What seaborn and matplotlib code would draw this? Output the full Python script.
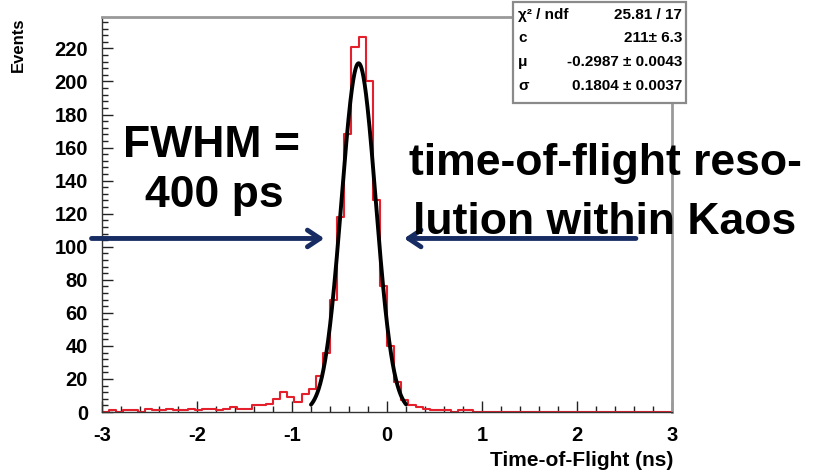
import numpy as np
import pandas as pd
import matplotlib
matplotlib.use("Agg")
import matplotlib.pyplot as plt
import seaborn as sns
from matplotlib.ticker import MultipleLocator
from matplotlib.patches import Rectangle

# Time-of-flight histogram: 80 bins of 0.075 ns between -3 and 3 ns
bin_lo, bin_hi, n_bins = -3.0, 3.0, 80
counts = [
    0, 1, 0, 1, 1, 0, 2, 1, 1, 2, 1, 1, 2, 1, 2, 2, 1, 2, 3, 2,
    2, 4, 4, 5, 8, 12, 9, 6, 11, 14,
    22, 36, 68, 118, 168, 221, 227, 200, 128, 76, 40, 18, 7,
    4, 3, 2, 1, 1, 1, 0, 1, 1, 0,
    0, 0, 0, 0, 0, 0, 0, 0, 0, 0, 0, 0, 0, 0, 0, 0, 0, 0, 0, 0, 0, 0, 0, 0, 0, 0, 0,
]

# Gaussian fit result
fit_c, fit_mu, fit_sigma = 211.0, -0.2987, 0.1804
fit_range = (-0.8, 0.2)

stats_labels = ["\u03c7\u00b2 / ndf", "c", "\u03bc", "\u03c3"]
stats_values = ["25.81 / 17", "211\u00b1 6.3", "-0.2987 \u00b1 0.0043", "0.1804 \u00b1 0.0037"]

x_ticks = [-3, -2, -1, 0, 1, 2, 3]
y_ticks = list(range(0, 221, 20))

sns.set_style("white")
plt.rcParams["font.family"] = ["Liberation Sans", "DejaVu Sans"]
plt.rcParams["font.weight"] = "bold"
plt.rcParams["text.color"] = "black"

W, H = 834, 475
fig = plt.figure(figsize=(W / 100, H / 100), dpi=100)
ax = fig.add_axes([102 / W, 1 - 412 / H, (672 - 102) / W, (412 - 17) / H])

bin_w = (bin_hi - bin_lo) / n_bins
hist_df = pd.DataFrame({
    "tof": [bin_lo + (i + 0.5) * bin_w for i in range(n_bins)],
    "events": counts,
})
sns.histplot(data=hist_df, x="tof", weights="events", bins=n_bins,
             binrange=(bin_lo, bin_hi), element="step", fill=False,
             color="#e3202c", linewidth=1.5, ax=ax)

fx = np.linspace(fit_range[0], fit_range[1], 300)
fy = fit_c * np.exp(-0.5 * ((fx - fit_mu) / fit_sigma) ** 2)
sns.lineplot(x=fx, y=fy, color="black", linewidth=2.8, ax=ax)

ax.set_xlim(bin_lo, bin_hi)
ax.set_ylim(0, 239)
ax.set_xticks(x_ticks)
ax.set_xticklabels([str(t) for t in x_ticks])
ax.set_yticks(y_ticks)
ax.set_yticklabels([str(t) for t in y_ticks])
ax.xaxis.set_minor_locator(MultipleLocator(0.2))
ax.yaxis.set_minor_locator(MultipleLocator(4))
ax.tick_params(axis="both", which="both", direction="in", colors="#222222",
               labelsize=14.5, width=1)
ax.tick_params(axis="both", which="major", length=8)
ax.tick_params(axis="both", which="minor", length=4)
ax.tick_params(axis="y", which="both", left=True, right=False, pad=10)
ax.tick_params(axis="x", which="both", bottom=True, top=False, pad=10)
for lab in ax.get_xticklabels() + ax.get_yticklabels():
    lab.set_fontweight("bold")
    lab.set_color("black")

ax.set_xlabel("")
ax.set_ylabel("")
for side in ("left", "bottom"):
    ax.spines[side].set_color("#333333")
    ax.spines[side].set_linewidth(1.0)
for side in ("top", "right"):
    ax.spines[side].set_color("#999999")
    ax.spines[side].set_linewidth(2.0)

fig.text(673 / W, 1 - 461 / H, "Time-of-Flight (ns)", ha="right", va="center",
         fontsize=15, fontweight="bold", color="black")
fig.text(18 / W, 1 - 18 / H, "Events", ha="center", va="top", rotation=90,
         fontsize=12, fontweight="bold", color="black")

# Statistics box
box = Rectangle((513 / W, 1 - 103 / H), (686 - 513) / W, (103 - 2) / H,
                transform=fig.transFigure, facecolor="white", edgecolor="#8a8a8a",
                linewidth=1.6, zorder=5)
fig.patches.append(box)
row_y = [15, 38, 62, 86]
for lab, val, yy in zip(stats_labels, stats_values, row_y):
    fig.text(518 / W, 1 - yy / H, lab, ha="left", va="center", fontsize=11,
             fontweight="bold", color="black", zorder=6)
    fig.text(682 / W, 1 - yy / H, val, ha="right", va="center", fontsize=11,
             fontweight="bold", color="black", zorder=6)

# Annotation text and FWHM arrows
navy = "#172c63"
fig.text(212 / W, 1 - 146 / H, "FWHM =", ha="center", va="center", fontsize=32,
         fontweight="bold", color="black")
fig.text(214 / W, 1 - 195 / H, "400 ps", ha="center", va="center", fontsize=32,
         fontweight="bold", color="black")
fig.text(605 / W, 1 - 164 / H, "time-of-flight reso-", ha="center", va="center",
         fontsize=32, fontweight="bold", color="black")
fig.text(605 / W, 1 - 222 / H, "lution within Kaos", ha="center", va="center",
         fontsize=32, fontweight="bold", color="black")

half_max = 105
arrow_style = dict(arrowstyle="->,head_length=0.9,head_width=0.6", color=navy,
                   lw=3.5, shrinkA=0, shrinkB=0)
ax.annotate("", xy=(-0.66, half_max), xytext=(-3.11, half_max),
            arrowprops=arrow_style, annotation_clip=False)
ax.annotate("", xy=(0.18, half_max), xytext=(2.62, half_max),
            arrowprops=arrow_style, annotation_clip=False)

fig.savefig("out.png", dpi=100)
